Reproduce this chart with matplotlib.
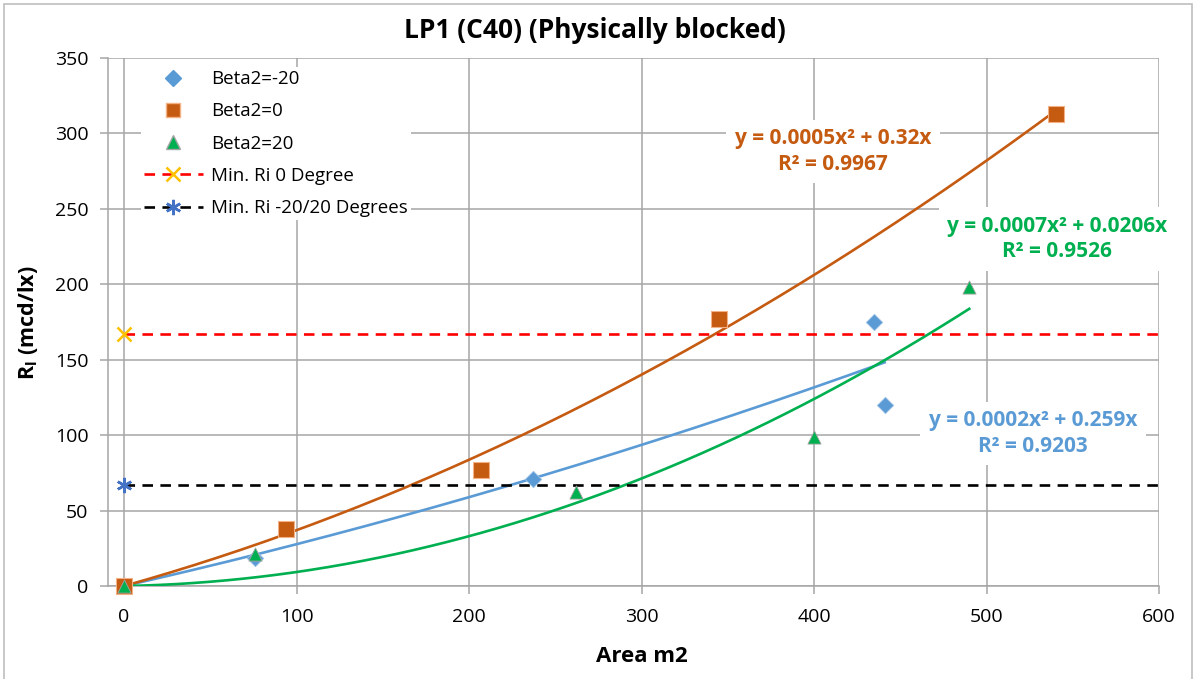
import numpy as np
import matplotlib.pyplot as plt
from matplotlib.lines import Line2D
from matplotlib.patches import Rectangle

plt.rcParams['font.family'] = ['Open Sans', 'DejaVu Sans']
plt.rcParams['mathtext.fontset'] = 'custom'
plt.rcParams['mathtext.rm'] = 'Open Sans'
plt.rcParams['mathtext.bf'] = 'Open Sans:bold'

# measured points (area m2, Ri mcd/lx)
area_m20 = [0, 76, 237, 435, 441]
ri_m20 = [0, 18.5, 71, 175, 120]
area_0 = [0, 94, 207, 345, 540]
ri_0 = [0, 38, 77, 177, 313]
area_p20 = [0, 76, 262, 400, 490]
ri_p20 = [0, 21, 62, 99, 198]

min_ri_0 = 167
min_ri_20 = 67

eq_m20 = ['y = 0.0002x² + 0.259x', 'R² = 0.9203']
eq_0 = ['y = 0.0005x² + 0.32x', 'R² = 0.9967']
eq_p20 = ['y = 0.0007x² + 0.0206x', 'R² = 0.9526']

c_blue = '#5B9BD5'
c_orange = '#C55A11'
c_green = '#00B050'
grid_c = '#A6A6A6'


def quad_fit(x, y):
    # y = a*x^2 + b*x, intercept fixed at zero
    x = np.asarray(x, float)
    A = np.column_stack([x ** 2, x])
    coef, *_ = np.linalg.lstsq(A, np.asarray(y, float), rcond=None)
    return coef


W, H = 1197, 679
fig = plt.figure(figsize=(W / 100, H / 100), dpi=100)
ax = fig.add_axes([108 / W, 1 - 586 / H, (1159 - 108) / W, (586 - 58) / H])

ax.set_xlim(-9.3, 600)
ax.set_ylim(0, 350)
ax.set_xticks(range(0, 601, 100))
ax.set_yticks(range(0, 351, 50))
ax.grid(True, color=grid_c, lw=1.1)
ax.set_axisbelow(True)
for s in ['top', 'right']:
    ax.spines[s].set_visible(False)
for s in ['left', 'bottom']:
    ax.spines[s].set_color(grid_c)
    ax.spines[s].set_linewidth(1.1)
ax.tick_params(colors=grid_c, labelcolor='black', labelsize=14, length=6, width=1.1)
ax.tick_params(axis='x', pad=10)
ax.tick_params(axis='y', pad=8)

# trendlines
for xs, ys, col in [(area_m20, ri_m20, c_blue), (area_0, ri_0, c_orange), (area_p20, ri_p20, c_green)]:
    a, b = quad_fit(xs, ys)
    xx = np.linspace(0, max(xs), 200)
    ax.plot(xx, a * xx ** 2 + b * xx, color=col, lw=1.9, zorder=3)

# minimum Ri levels
ax.plot([0, 600], [min_ri_0] * 2, color='#FF0000', lw=1.9, dashes=(4, 2.8), zorder=3)
ax.plot([0, 600], [min_ri_20] * 2, color='black', lw=1.9, dashes=(4, 2.8), zorder=3)
ax.plot([0], [min_ri_0], marker='x', color='#FFC000', ms=10, mew=1.8, ls='none', zorder=5, clip_on=False)
ax.plot([0], [min_ri_20], marker=(6, 2, 0), color='#4472C4', ms=11, mew=1.8, ls='none', zorder=5, clip_on=False)

ax.scatter(area_m20, ri_m20, marker='D', s=70, color=c_blue, edgecolor='#9DC3E6', lw=0.6, zorder=4, clip_on=False)
ax.scatter(area_0, ri_0, marker='s', s=120, color=c_orange, edgecolor='#F4B183', lw=0.8, zorder=4, clip_on=False)
ax.scatter(area_p20, ri_p20, marker='^', s=90, color=c_green, edgecolor='#A5A5A5', lw=0.6, zorder=4, clip_on=False)

# trendline equations
lbl = dict(ha='center', va='center', fontsize=15, fontweight='bold', linespacing=1.3,
           bbox=dict(facecolor='white', edgecolor='none', pad=6), zorder=6)
ax.text(411, 288, eq_0[0] + '\n' + eq_0[1], color=c_orange, **lbl)
ax.text(541, 230, eq_p20[0] + '\n' + eq_p20[1], color=c_green, **lbl)
ax.text(527, 101, eq_m20[0] + '\n' + eq_m20[1], color=c_blue, **lbl)

handles = [
    Line2D([], [], ls='none', marker='D', ms=8, color=c_blue),
    Line2D([], [], ls='none', marker='s', ms=10, color=c_orange, mec='#F4B183'),
    Line2D([], [], ls='none', marker='^', ms=10, color=c_green, mec='#A5A5A5'),
    Line2D([], [], color='#FF0000', lw=1.9, dashes=(4, 2.8), marker='x', ms=10, mew=1.8, mec='#FFC000'),
    Line2D([], [], color='black', lw=1.9, dashes=(4, 2.8), marker=(6, 2, 0), ms=11, mew=1.8, mec='#4472C4'),
]
labels = ['Beta2=-20', 'Beta2=0', 'Beta2=20', 'Min. Ri 0 Degree', 'Min. Ri -20/20 Degrees']
leg = ax.legend(handles, labels, loc='upper left', bbox_to_anchor=(0.0225, 1.0), fontsize=13.5,
                frameon=True, facecolor='white', edgecolor='none', framealpha=1, fancybox=False,
                handlelength=3.15, handletextpad=0.45, labelspacing=0.76, borderpad=0.15)
leg.set_zorder(7)

fig.text(0.5 * (390 + 800) / W, 1 - 30 / H, 'LP1 (C40) (Physically blocked)',
         fontsize=19, fontweight='bold', ha='center', va='center')
ax.set_xlabel('Area m2', fontsize=16, fontweight='bold', va='center')
ax.xaxis.set_label_coords((642 - 108) / 1051, (586 - 657) / 528)
ax.set_ylabel('R$_\\mathbf{l}$ (mcd/lx)', fontsize=15.5, fontweight='bold', va='center')
ax.yaxis.set_label_coords((28 - 108) / 1051, (586 - 323) / 528)

# chart border
fig.patches.append(Rectangle((4 / W, -0.01), 1188 / W, 1 - 4 / H + 0.01,
                             transform=fig.transFigure, fill=False, edgecolor='#BFBFBF', lw=1.2))

fig.savefig('out.png', dpi=100)
